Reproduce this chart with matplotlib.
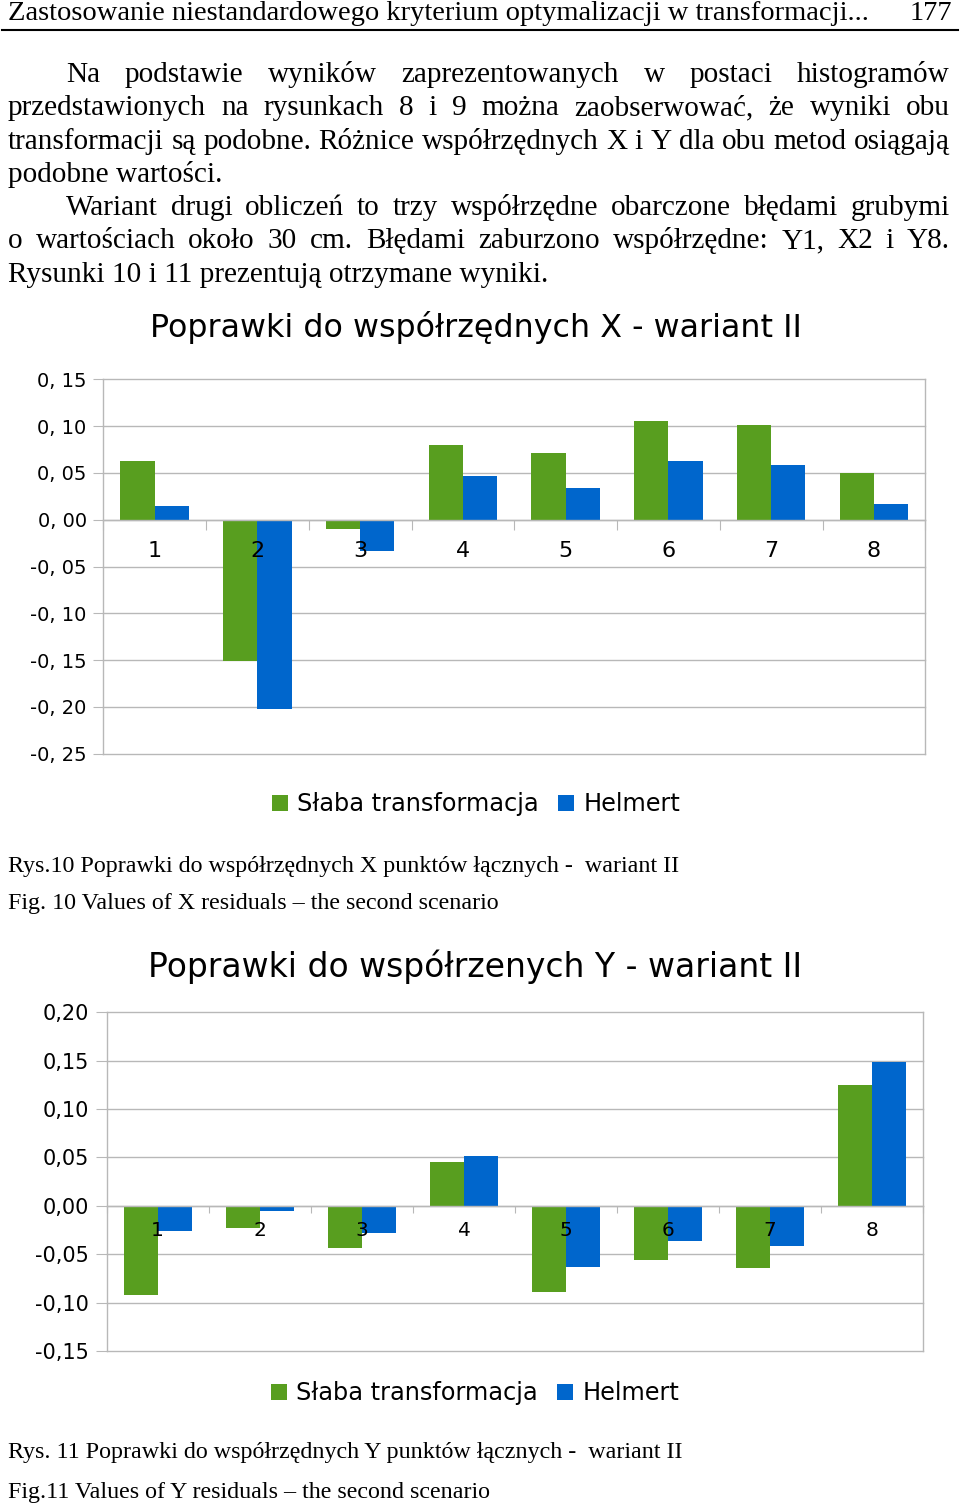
import numpy as np
import matplotlib
matplotlib.use('Agg')
import matplotlib.pyplot as plt
from matplotlib.lines import Line2D

# Data
points = ['1', '2', '3', '4', '5', '6', '7', '8']
series_names = ['Słaba transformacja', 'Helmert']

x_slaba = [0.063, -0.151, -0.010, 0.080, 0.071, 0.105, 0.101, 0.050]
x_helmert = [0.015, -0.202, -0.033, 0.047, 0.034, 0.063, 0.058, 0.017]
x_ticks = [-0.25, -0.20, -0.15, -0.10, -0.05, 0.00, 0.05, 0.10, 0.15]
x_tick_labels = ['-0, 25', '-0, 20', '-0, 15', '-0, 10', '-0, 05', '0, 00', '0, 05', '0, 10', '0, 15']

y_slaba = [-0.092, -0.023, -0.044, 0.045, -0.089, -0.056, -0.064, 0.125]
y_helmert = [-0.026, -0.005, -0.028, 0.051, -0.063, -0.036, -0.042, 0.149]
y_ticks = [-0.15, -0.10, -0.05, 0.00, 0.05, 0.10, 0.15, 0.20]
y_tick_labels = ['-0,15', '-0,10', '-0,05', '0,00', '0,05', '0,10', '0,15', '0,20']

header = 'Zastosowanie niestandardowego kryterium optymalizacji w transformacji...'
page_no = '177'
paragraph = [
    ('Na podstawie wyników zaprezentowanych w postaci histogramów', True, 66),
    ('przedstawionych na rysunkach 8 i 9 można zaobserwować, że wyniki obu', True, 8),
    ('transformacji są podobne. Różnice współrzędnych X i Y dla obu metod osiągają', True, 8),
    ('podobne wartości.', False, 8),
    ('Wariant drugi obliczeń to trzy współrzędne obarczone błędami grubymi', True, 66),
    ('o wartościach około 30 cm. Błędami zaburzono współrzędne: Y1, X2 i Y8.', True, 8),
    ('Rysunki 10 i 11 prezentują otrzymane wyniki.', False, 8),
]
title1 = 'Poprawki do współrzędnych X - wariant II'
title2 = 'Poprawki do współrzenych Y - wariant II'
cap1 = ['Rys.10 Poprawki do współrzędnych X punktów łącznych -  wariant II',
        'Fig. 10 Values of X residuals – the second scenario']
cap2 = ['Rys. 11 Poprawki do współrzędnych Y punktów łącznych -  wariant II',
        'Fig.11 Values of Y residuals – the second scenario']

GREEN = '#589e1f'
BLUE = '#0066cc'
GRID = '#b8b8b8'
SERIF = 'Liberation Serif'
SANS = 'DejaVu Sans'

W, H = 960, 1507
fig = plt.figure(figsize=(9.6, 15.07), dpi=100)
renderer = fig.canvas.get_renderer()


def fx(x):
    return x / W


def fy(y):
    return 1 - y / H


def fit_size(s, width, family, base=20):
    t = fig.text(0, 0, s, fontsize=base, family=family)
    w = t.get_window_extent(renderer).width
    t.remove()
    return base * width / w


def justify(s, x0, x1, y, size, family):
    words = s.split()
    items = [fig.text(0, fy(y), w, fontsize=size, family=family, va='baseline') for w in words]
    widths = [t.get_window_extent(renderer).width for t in items]
    gap = (x1 - x0 - sum(widths)) / max(len(words) - 1, 1)
    x = x0
    for t, w in zip(items, widths):
        t.set_x(fx(x))
        x += w + gap


# page header
hs = fit_size(header, 860, SERIF)
fig.text(fx(8), fy(20), header, fontsize=hs, family=SERIF, va='baseline')
fig.text(fx(952), fy(20), page_no, fontsize=hs, family=SERIF, va='baseline', ha='right')
fig.add_artist(Line2D([fx(2), fx(958)], [fy(29.5)] * 2, color='black', lw=1.5))

# body text
bs = fit_size(paragraph[-1][0], 541, SERIF)
for i, (line, just, x0) in enumerate(paragraph):
    yb = 82 + 33.3 * i
    if just:
        justify(line, x0, 950, yb, bs, SERIF)
    else:
        fig.text(fx(x0), fy(yb), line, fontsize=bs, family=SERIF, va='baseline')


def draw_chart(box, s1, s2, ticks, tick_labels, ytick_len, xtick_len, xpad, ysize, xsize):
    left, top, right, bottom = box
    ax = fig.add_axes([fx(left), fy(bottom), (right - left) / W, (bottom - top) / H])
    x = np.arange(len(points))
    w = 1 / 3
    for v in ticks:
        ax.axhline(v, color=GRID, lw=1, zorder=0, clip_on=False)
    b1 = ax.bar(x - w / 2, s1, w, color=GREEN, zorder=1)
    b2 = ax.bar(x + w / 2, s2, w, color=BLUE, zorder=1)
    ax.set_xlim(-0.5, len(points) - 0.5)
    ax.set_ylim(ticks[0], ticks[-1])
    ax.set_yticks(ticks, labels=tick_labels)
    ax.set_xticks(np.arange(-0.5, len(points), 1), labels=[''] * (len(points) + 1))
    ax.set_xticks(x, labels=points, minor=True)
    ax.spines['top'].set_visible(False)
    ax.spines['bottom'].set_position(('data', 0))
    for sp in ['left', 'right', 'bottom']:
        ax.spines[sp].set_color(GRID)
        ax.spines[sp].set_linewidth(1)
    ax.tick_params(axis='y', length=ytick_len, color=GRID, pad=5, labelsize=ysize)
    ax.tick_params(axis='x', which='major', length=xtick_len, color=GRID)
    ax.tick_params(axis='x', which='minor', length=0, pad=xpad, labelsize=xsize)
    for t in ax.get_yticklabels() + ax.get_xticklabels(minor=True):
        t.set_family(SANS)
    ax.patch.set_visible(False)
    return b1, b2


def chart_title(s, x0, x1, yb):
    size = fit_size(s, x1 - x0, SANS)
    fig.text(fx((x0 + x1) / 2), fy(yb), s, fontsize=size, family=SANS, ha='center', va='baseline')


def chart_legend(handles, cx, cy):
    fig.legend(handles, series_names, loc='center', bbox_to_anchor=(fx(cx), fy(cy)), ncol=2,
               frameon=False, handlelength=0.65, handleheight=0.65,
               handletextpad=0.4, columnspacing=0.8, prop={'family': SANS, 'size': 17.3})


# chart 1
h1 = draw_chart((103.3, 379.3, 925.3, 753.7), x_slaba, x_helmert, x_ticks, x_tick_labels,
                7, 7, 15, 14, 16)
chart_title(title1, 150, 802, 337)
chart_legend(h1, 476, 804)

# chart 2
h2 = draw_chart((106.7, 1012.3, 923.3, 1351), y_slaba, y_helmert, y_ticks, y_tick_labels,
                8, 5, 11, 15, 14.5)
chart_title(title2, 148, 803, 977)
chart_legend(h2, 475, 1393)

# captions
cs = fit_size(cap1[0], 670, SERIF)
fig.text(fx(8), fy(872), cap1[0], fontsize=cs, family=SERIF, va='baseline')
fig.text(fx(8), fy(909), cap1[1], fontsize=cs, family=SERIF, va='baseline')
fig.text(fx(8), fy(1458), cap2[0], fontsize=cs, family=SERIF, va='baseline')
fig.text(fx(8), fy(1498), cap2[1], fontsize=cs, family=SERIF, va='baseline')

fig.savefig('out.png', dpi=100, facecolor='white')
